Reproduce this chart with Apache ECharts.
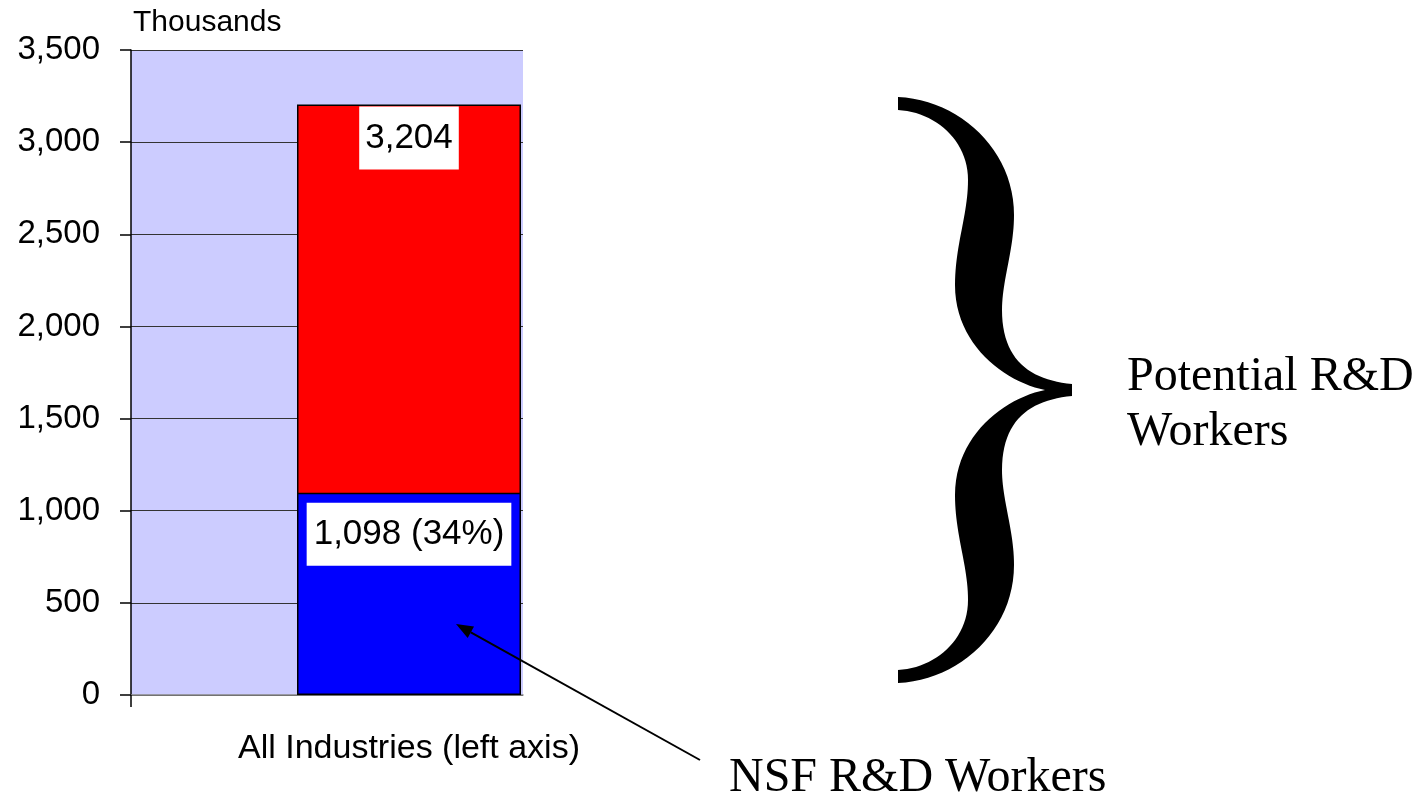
<!DOCTYPE html>
<html>
<head>
<meta charset="utf-8">
<script src="https://cdn.jsdelivr.net/npm/echarts@6/dist/echarts.min.js"></script>
<style>
  html, body { margin: 0; padding: 0; background: #fff; }
  #chart { width: 1418px; height: 804px; }
</style>
</head>
<body>
<div id="chart"></div>
<script>
// Research & development workforce, thousands of workers
const categories = ['All Industries (left axis)'];
const potentialWorkers = [3204];   // total potential R&D workers
const nsfWorkers = [1098];         // workers counted as R&D by NSF
const yTicks = { min: 0, max: 3500, step: 500 };

const SANS = 'Liberation Sans, Arial, sans-serif';
const SERIF = 'Liberation Serif, Times New Roman, serif';
const fmt = v => Number(v).toLocaleString('en-US');

const chart = echarts.init(document.getElementById('chart'), null, { renderer: 'canvas' });

// arrow pointing from the caption into the blue segment
const arrowFrom = [700, 760], arrowTo = [456, 624];
const dx = arrowFrom[0] - arrowTo[0], dy = arrowFrom[1] - arrowTo[1];
const len = Math.hypot(dx, dy), ux = dx / len, uy = dy / len;
const headL = 17, headW = 6.5;
const bx = arrowTo[0] + ux * headL, by = arrowTo[1] + uy * headL;
const arrowHead = [
  arrowTo,
  [bx - uy * headW, by + ux * headW],
  [bx + uy * headW, by - ux * headW]
];

// curly brace outline: start point followed by cubic segments / straight lines
const braceStart = [898, 97];
const braceSegs = [
  ['C', 960, 100, 1014, 150, 1014, 215],
  ['C', 1014, 250, 1002, 280, 1002, 310],
  ['C', 1002, 360, 1030, 380, 1072, 384],
  ['L', 1072, 396],
  ['C', 1030, 400, 1002, 420, 1002, 470],
  ['C', 1002, 500, 1014, 530, 1014, 565],
  ['C', 1014, 630, 960, 680, 898, 683],
  ['L', 898, 670],
  ['C', 935, 668, 968, 640, 968, 600],
  ['C', 968, 565, 955, 535, 955, 495],
  ['C', 955, 435, 1005, 398, 1045, 390],
  ['C', 1005, 382, 955, 345, 955, 285],
  ['C', 955, 245, 968, 215, 968, 180],
  ['C', 968, 140, 935, 112, 898, 110]
];
function flattenOutline(start, segs, steps) {
  const pts = [start.slice()];
  let cur = start.slice();
  segs.forEach(s => {
    if (s[0] === 'L') { cur = [s[1], s[2]]; pts.push(cur); return; }
    const [, c1x, c1y, c2x, c2y, ex, ey] = s;
    for (let i = 1; i <= steps; i++) {
      const t = i / steps, m = 1 - t;
      pts.push([
        m * m * m * cur[0] + 3 * m * m * t * c1x + 3 * m * t * t * c2x + t * t * t * ex,
        m * m * m * cur[1] + 3 * m * m * t * c1y + 3 * m * t * t * c2y + t * t * t * ey
      ]);
    }
    cur = [ex, ey];
  });
  return pts;
}
const bracePoints = flattenOutline(braceStart, braceSegs, 24);

const option = {
  animation: false,
  grid: [
    { left: 131, top: 50, width: 392, height: 645, show: true,
      backgroundColor: '#CCCCFF', borderWidth: 0 },
    { left: 297, top: 50, width: 224, height: 645 }
  ],
  xAxis: [
    { type: 'value', gridIndex: 0, min: 0, max: 1,
      axisLine: { show: true, lineStyle: { color: '#888', width: 1.5 } },
      axisTick: { show: true, customValues: [0], length: 12, lineStyle: { color: '#000', width: 1.5 } },
      axisLabel: { show: false }, splitLine: { show: false } },
    { type: 'category', gridIndex: 1, data: categories,
      axisLine: { show: false }, axisTick: { show: false },
      axisLabel: { fontFamily: SANS, fontSize: 34, color: '#000', margin: 37 } }
  ],
  yAxis: [
    { type: 'value', gridIndex: 0, min: yTicks.min, max: yTicks.max, interval: yTicks.step,
      name: 'Thousands', nameLocation: 'end', nameGap: 27,
      nameTextStyle: { fontFamily: SANS, fontSize: 30, color: '#000', align: 'left',
                       verticalAlign: 'middle', padding: [0, 0, 0, 2] },
      axisLine: { show: true, lineStyle: { color: '#000', width: 1.5 } },
      axisTick: { show: true, inside: false, length: 11, lineStyle: { color: '#000', width: 1.5 } },
      axisLabel: { fontFamily: SANS, fontSize: 33, color: '#000', margin: 31, formatter: v => fmt(v) },
      splitLine: { show: true, lineStyle: { color: '#333', width: 1 } } },
    { type: 'value', gridIndex: 1, min: yTicks.min, max: yTicks.max, show: false,
      splitLine: { show: false } }
  ],
  series: [
    { name: 'Potential R&D Workers', type: 'bar', xAxisIndex: 1, yAxisIndex: 1,
      data: potentialWorkers, barWidth: '100%', barGap: '-100%',
      itemStyle: { color: '#FF0000', borderColor: '#000', borderWidth: 1.5 },
      label: { show: true, position: 'insideTop', distance: 2,
               fontFamily: SANS, fontSize: 35, color: '#000',
               backgroundColor: '#fff', padding: [14, 6],
               formatter: p => fmt(p.value) } },
    { name: 'NSF R&D Workers', type: 'bar', xAxisIndex: 1, yAxisIndex: 1,
      data: nsfWorkers, barWidth: '100%', barGap: '-100%',
      itemStyle: { color: '#0000FF', borderColor: '#000', borderWidth: 1.5 },
      label: { show: true, position: 'insideTop', distance: 10,
               fontFamily: SANS, fontSize: 35, color: '#000',
               backgroundColor: '#fff', padding: [14, 7],
               formatter: p => fmt(p.value) + ' (' +
                 Math.round(p.value / potentialWorkers[p.dataIndex] * 100) + '%)' } }
  ],
  graphic: [
    { type: 'polygon', shape: { points: bracePoints }, style: { fill: '#000' }, z: 10 },
    { type: 'text', x: 1127, y: 350,
      style: { text: 'Potential R&D\nWorkers', font: '48px ' + SERIF, fill: '#000',
               lineHeight: 55, verticalAlign: 'top', align: 'left' }, z: 10 },
    { type: 'text', x: 729, y: 778,
      style: { text: 'NSF R&D Workers', font: '48px ' + SERIF, fill: '#000',
               verticalAlign: 'middle', align: 'left' }, z: 10 },
    { type: 'line', shape: { x1: arrowFrom[0], y1: arrowFrom[1], x2: bx, y2: by },
      style: { stroke: '#000', lineWidth: 2 }, z: 20 },
    { type: 'polygon', shape: { points: arrowHead }, style: { fill: '#000' }, z: 20 }
  ]
};

chart.setOption(option);
</script>
</body>
</html>
